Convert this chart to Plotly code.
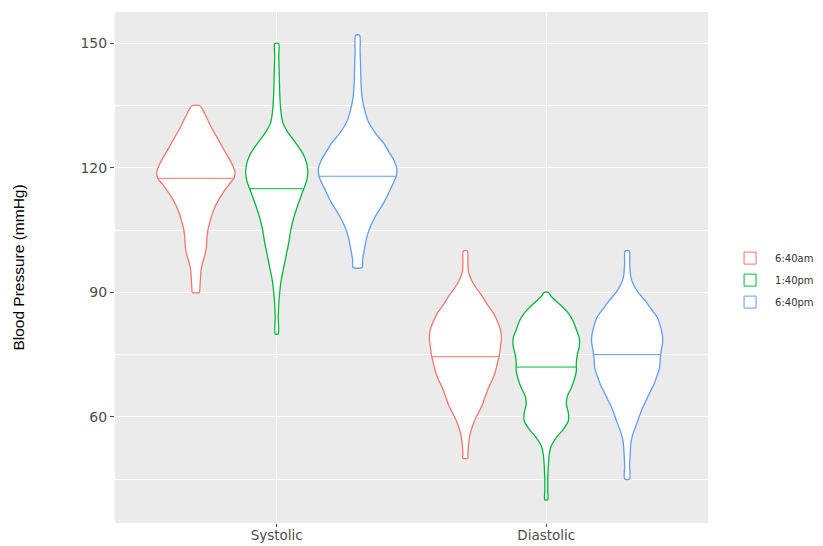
import numpy as np
import plotly.graph_objects as go

measures = ["Systolic", "Diastolic"]
times = ["6:40am", "1:40pm", "6:40pm"]
colors = ["#F8766D", "#00BA38", "#619CFF"]

# Violin outlines: blood-pressure level (mmHg, top to bottom) and the
# half-width of the density at that level (relative units).
sys_am_level = [135, 133, 130, 127, 124, 121, 119, 117.5, 116, 114, 112, 110, 107, 105, 103, 101, 99, 97, 95, 93, 91, 90]
sys_am_width = [4, 9, 15, 22, 29, 36, 39, 38, 33, 27, 22, 18, 14, 12, 11, 10.5, 9, 6.5, 5, 4.5, 4, 3.5]

sys_pm1_level = [150, 147, 143, 138, 134, 131, 129, 127, 125, 123, 121, 119, 117, 115, 113, 111, 108, 105, 102, 99, 96, 93, 90, 87, 84, 80]
sys_pm1_width = [2, 2, 2.5, 3, 4, 6, 10, 16, 22, 27, 30, 31, 30, 27, 24, 21, 17, 14, 12, 9.5, 7, 4.5, 3, 2, 1.5, 1.5]

sys_pm6_level = [152, 148, 144, 140, 137, 134, 131, 128, 126, 124, 122, 120, 118, 116, 114, 112, 110, 108, 106, 104, 102, 100, 98, 96]
sys_pm6_width = [2, 2.5, 3, 3.5, 4.5, 7, 11, 19, 26, 31, 36, 39, 38.5, 35, 31, 27, 22, 17, 13, 10, 8, 6.5, 5, 4.5]

dia_am_level = [100, 97, 95, 93, 91, 89, 87, 85, 83, 81, 79, 77, 75, 73, 71, 69, 67, 65, 63, 61, 59, 57, 55, 53, 51, 50]
dia_am_width = [2, 2.5, 3, 6, 11, 17, 22, 28, 32, 35, 36, 35, 34, 32, 30, 27, 23, 20, 17, 13, 9, 6, 4, 3, 2.5, 2.5]

dia_pm1_level = [90, 89, 87, 85, 83, 81, 79, 77, 75, 73, 71, 69, 67, 65, 63, 61, 59, 57, 55, 53, 51, 48, 45, 42, 40]
dia_pm1_width = [2, 5, 14, 22, 27, 30, 33, 33, 31, 30, 30, 28, 25, 21, 20, 22, 22, 17, 10, 5, 3, 2, 1.5, 1.5, 1.5]

dia_pm6_level = [100, 97, 94, 92, 90, 88, 86, 84, 82, 80, 78, 76, 74, 72, 70, 68, 66, 64, 62, 60, 58, 56, 54, 51, 48, 45]
dia_pm6_width = [2, 2.5, 3.5, 6, 11, 18, 24, 30, 33, 35, 35.5, 34, 33, 32.5, 30, 27, 23, 19, 15, 12, 9, 6, 4, 3, 2.5, 2.5]

sys_medians = [117.5, 115, 118]
dia_medians = [74.5, 72, 75]

outlines = {
    ("Systolic", 0): (sys_am_level, sys_am_width),
    ("Systolic", 1): (sys_pm1_level, sys_pm1_width),
    ("Systolic", 2): (sys_pm6_level, sys_pm6_width),
    ("Diastolic", 0): (dia_am_level, dia_am_width),
    ("Diastolic", 1): (dia_pm1_level, dia_pm1_width),
    ("Diastolic", 2): (dia_pm6_level, dia_pm6_width),
}
medians = {"Systolic": sys_medians, "Diastolic": dia_medians}

dodge = 0.3          # spacing between the three times within a measure
max_half = 0.145     # half-width (x units) of the widest violin
widest = max(max(w) for _, w in outlines.values())
scale = max_half / widest

fig = go.Figure()
for gi, m in enumerate(measures):
    for ti, t in enumerate(times):
        lv, wd = outlines[(m, ti)]
        lv = np.array(lv, dtype=float)
        w = np.array(wd, dtype=float) * scale
        cx = gi + 1 + (ti - 1) * dodge
        xs = np.concatenate([cx - w, (cx + w)[::-1], [cx - w[0]]])
        ys = np.concatenate([lv, lv[::-1], [lv[0]]])
        fig.add_trace(go.Scatter(
            x=xs, y=ys, mode="lines", fill="toself", fillcolor="white",
            line=dict(color=colors[ti], width=1.3, shape="spline", smoothing=0.7),
            legendgroup=t, showlegend=False, hoverinfo="skip",
        ))
        med = medians[m][ti]
        wm = np.interp(med, lv[::-1], w[::-1])
        fig.add_trace(go.Scatter(
            x=[cx - wm, cx + wm], y=[med, med], mode="lines",
            line=dict(color=colors[ti], width=1),
            legendgroup=t, showlegend=False, hoverinfo="skip",
        ))

# legend keys: outlined white boxes, one per time of day
for ti, t in enumerate(times):
    fig.add_trace(go.Bar(
        x=[None], y=[None], name=t, legendgroup=t,
        marker=dict(color="white", line=dict(color=colors[ti], width=1)),
        hoverinfo="skip",
    ))

fig.update_layout(
    width=823, height=546,
    margin=dict(l=115, r=115, t=12, b=23),
    paper_bgcolor="white", plot_bgcolor="#EBEBEB",
    font=dict(family="DejaVu Sans, Arial, sans-serif", color="#4D4D4D"),
    legend=dict(
        xref="container", yref="container",
        x=0.881, y=0.487, xanchor="left", yanchor="middle",
        font=dict(size=10, color="#333333"), itemwidth=40,
        bgcolor="rgba(0,0,0,0)", tracegroupgap=3,
    ),
)
fig.update_xaxes(
    range=[0.4, 2.6], tickvals=[1, 2], ticktext=measures,
    showgrid=True, gridcolor="white", gridwidth=1.2,
    ticks="outside", ticklen=3, tickcolor="#4D4D4D",
    tickfont=dict(size=13.5, color="#4D4D4D"), ticklabelstandoff=-3,
    zeroline=False, showline=False, automargin=False,
)
fig.update_yaxes(
    range=[34.4, 157.6], tickvals=[60, 90, 120, 150],
    showgrid=True, gridcolor="white", gridwidth=1.2,
    minor=dict(tickvals=[45, 75, 105, 135], showgrid=True, gridcolor="white", gridwidth=0.6),
    ticks="outside", ticklen=4, tickcolor="#4D4D4D",
    tickfont=dict(size=14, color="#4D4D4D"), zeroline=False, showline=False,
    automargin=False,
    title=dict(text="Blood Pressure (mmHg)",
               font=dict(family="Liberation Sans, Arial, sans-serif", size=15.5, color="black"),
               standoff=52),
)

fig.write_html("out.html")
